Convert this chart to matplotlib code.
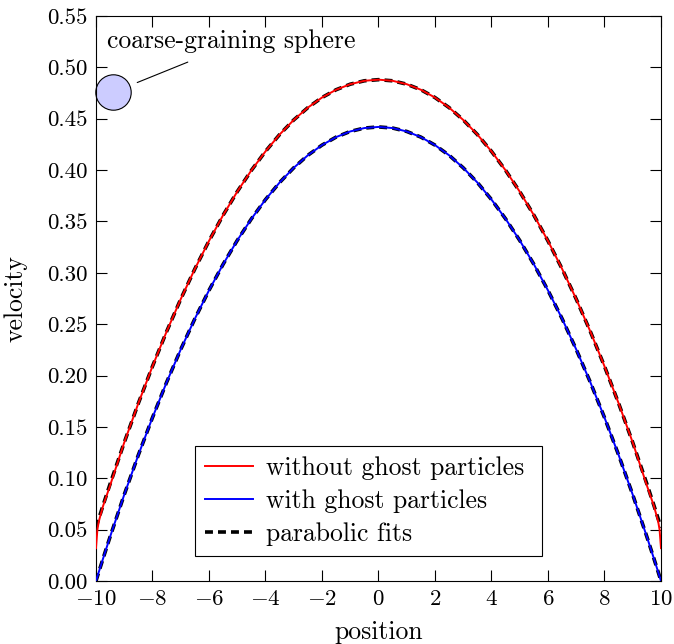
import numpy as np
import matplotlib
matplotlib.use("Agg")
import matplotlib.pyplot as plt
from matplotlib.ticker import FormatStrFormatter

plt.rcParams['font.family'] = 'cmr10'
plt.rcParams['mathtext.fontset'] = 'cm'
plt.rcParams['axes.formatter.use_mathtext'] = True
plt.rcParams['font.size'] = 18.5

# positions across the channel, denser near the walls
pos = [-10, -9.95, -9.9, -9.75, -9.5, -9, -8.5, -8, -7.5, -7, -6.5, -6, -5.5, -5, -4.5,
       -4, -3.5, -3, -2.5, -2, -1.5, -1, -0.5, 0, 0.5, 1, 1.5, 2, 2.5, 3, 3.5, 4, 4.5,
       5, 5.5, 6, 6.5, 7, 7.5, 8, 8.5, 9, 9.5, 9.75, 9.9, 9.95, 10]

# measured velocity profiles
vel_no_ghost = [0.032, 0.050, 0.058, 0.073, 0.093, 0.1348, 0.173, 0.209, 0.2428, 0.2744,
                0.3038, 0.331, 0.3561, 0.379, 0.3997, 0.4182, 0.4346, 0.4488, 0.4608,
                0.4706, 0.4782, 0.4836, 0.4869, 0.488, 0.4869, 0.4836, 0.4782, 0.4706,
                0.4608, 0.4488, 0.4346, 0.4182, 0.3997, 0.379, 0.3561, 0.331, 0.3038,
                0.2744, 0.2428, 0.209, 0.173, 0.1348, 0.093, 0.073, 0.058, 0.050, 0.032]
vel_ghost = [0.0, 0.0044, 0.0088, 0.0218, 0.0431, 0.084, 0.1227, 0.1591, 0.1934, 0.2254,
             0.2553, 0.2829, 0.3083, 0.3315, 0.3525, 0.3713, 0.3879, 0.4022, 0.4144,
             0.4243, 0.4321, 0.4376, 0.4409, 0.442, 0.4409, 0.4376, 0.4321, 0.4243,
             0.4144, 0.4022, 0.3879, 0.3713, 0.3525, 0.3315, 0.3083, 0.2829, 0.2553,
             0.2254, 0.1934, 0.1591, 0.1227, 0.084, 0.0431, 0.0218, 0.0088, 0.0044, 0.0]

# parabolic fits
fit_no_ghost = [0.052, 0.0564, 0.0606, 0.0736, 0.0945, 0.1348, 0.173, 0.209, 0.2428, 0.2744,
                0.3038, 0.331, 0.3561, 0.379, 0.3997, 0.4182, 0.4346, 0.4488, 0.4608,
                0.4706, 0.4782, 0.4836, 0.4869, 0.488, 0.4869, 0.4836, 0.4782, 0.4706,
                0.4608, 0.4488, 0.4346, 0.4182, 0.3997, 0.379, 0.3561, 0.331, 0.3038,
                0.2744, 0.2428, 0.209, 0.173, 0.1348, 0.0945, 0.0736, 0.0606, 0.0564, 0.052]
fit_ghost = vel_ghost

fig = plt.figure(figsize=(6.74, 6.44), dpi=100)
ax = fig.add_axes([0.1424, 0.0978, 0.8383, 0.8774])

dash = (2.2, 1.4)
ax.plot(pos, fit_no_ghost, color='black', lw=2.6, dashes=dash, zorder=2)
ax.plot(pos, fit_ghost, color='black', lw=2.6, dashes=dash, zorder=2)
l1, = ax.plot(pos, vel_no_ghost, color='red', lw=1.4, zorder=3)
l2, = ax.plot(pos, vel_ghost, color='blue', lw=1.4, zorder=3)
l3, = ax.plot([], [], color='black', lw=2.6, dashes=dash)

ax.set_xlim(-10, 10)
ax.set_ylim(0, 0.55)
ax.set_xticks(np.arange(-10, 11, 2))
ax.set_yticks(np.arange(0, 0.551, 0.05))
ax.yaxis.set_major_formatter(FormatStrFormatter('%.2f'))
ax.tick_params(direction='in', top=True, right=True, length=8, width=0.8,
               labelsize=16.5, pad=6)
for s in ax.spines.values():
    s.set_linewidth(0.8)

ax.text(0.5, -0.091, 'position', transform=ax.transAxes, ha='center', va='center')
ax.text(-0.1416, 0.5, 'velocity', transform=ax.transAxes, ha='center', va='center',
        rotation=90)

# coarse-graining sphere
ax.plot([-9.39], [0.4764], 'o', ms=25.5, mfc='#ccccff', mec='black', mew=0.8, clip_on=False)
ax.annotate('', xy=(-8.54, 0.4852), xytext=(-6.75, 0.5051),
            arrowprops=dict(arrowstyle='-', lw=0.8, color='black',
                            shrinkA=0, shrinkB=0))
ax.text(-9.61, 0.5187, 'coarse-graining sphere', ha='left', va='baseline')

leg = ax.legend([l1, l2, l3], ['without ghost particles', 'with ghost particles', 'parabolic fits'],
                loc='lower left', bbox_to_anchor=(0.175, 0.044, 0.614, 0.2), mode='expand',
                fancybox=False, edgecolor='black', framealpha=1, handlelength=1.85,
                handletextpad=0.5, labelspacing=0.36, borderpad=0.4, borderaxespad=0)
leg.get_frame().set_linewidth(0.8)

fig.savefig('out.png', dpi=100)
